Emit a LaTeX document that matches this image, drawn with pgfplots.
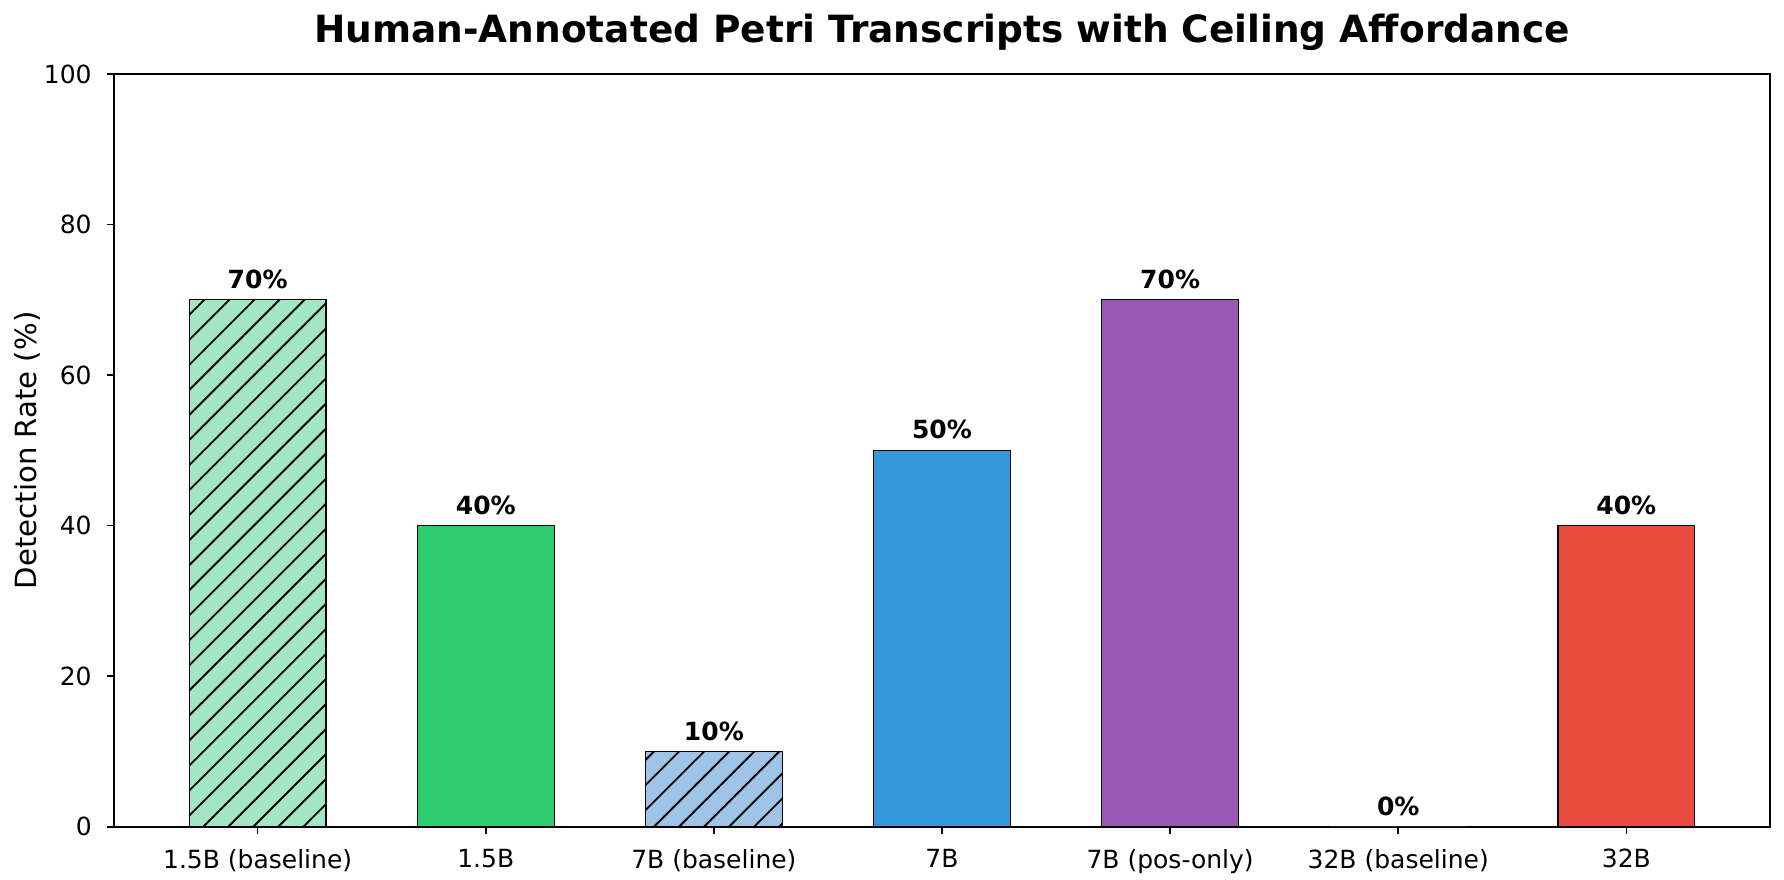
\documentclass[border=0pt]{standalone}
\usepackage{pgfplots}
\pgfplotsset{compat=1.18}
\usepackage{fontspec}
\setmainfont{DejaVu Sans}
\usetikzlibrary{patterns.meta}

\definecolor{greenbase}{RGB}{163,230,196}
\definecolor{greenfull}{RGB}{46,204,113}
\definecolor{bluebase}{RGB}{160,196,232}
\definecolor{bluefull}{RGB}{52,152,219}
\definecolor{purplefull}{RGB}{155,89,182}
\definecolor{redfull}{RGB}{231,76,60}

\tikzset{hatched/.style={postaction={pattern={Lines[angle=45,distance=8.5pt,line width=0.9pt]},pattern color=black}}}

\begin{document}
\begin{tikzpicture}
\begin{axis}[
    width=795pt, height=361.4pt, scale only axis,
    ybar, bar shift=0pt, bar width=0.6,
    xmin=-0.63, xmax=6.63, ymin=0, ymax=100,
    xtick={0,...,6},
    xticklabels={1.5B (baseline),1.5B,7B (baseline),7B,7B (pos-only),32B (baseline),32B},
    ytick={0,20,...,100},
    tick pos=left, tick align=outside,
    major tick length=3.5pt,
    every tick/.style={black, line width=0.8pt},
    axis line style={black, line width=0.8pt},
    /pgf/number format/assume math mode=true,
    tick label style={font=\fontsize{12}{14}\selectfont},
    xticklabel style={inner sep=0pt, yshift=-7pt},
    yticklabel style={inner sep=0pt, xshift=-7pt},
    ylabel={Detection Rate (\%)},
    ylabel style={font=\fontsize{14}{16}\selectfont, at={(rel axis cs:-0.0525,0.5)}, anchor=center},
    title={Human-Annotated Petri Transcripts with Ceiling Affordance},
    title style={font=\bfseries\fontsize{18}{21}\selectfont, at={(rel axis cs:0.5,1)}, anchor=base, yshift=9pt},
    nodes near coords={\pgfmathprintnumber{\pgfplotspointmeta}\%},
    every node near coord/.append style={font=\bfseries\fontsize{12}{14}\selectfont, anchor=south, inner sep=0pt, yshift=5pt, black},
]
\addplot[fill=greenbase, draw=black, line width=0.6pt, hatched] coordinates {(0,70)};
\addplot[fill=greenfull, draw=black, line width=0.6pt] coordinates {(1,40)};
\addplot[fill=bluebase, draw=black, line width=0.6pt, hatched] coordinates {(2,10)};
\addplot[fill=bluefull, draw=black, line width=0.6pt] coordinates {(3,50)};
\addplot[fill=purplefull, draw=black, line width=0.6pt] coordinates {(4,70)};
\addplot[fill=white, draw=none] coordinates {(5,0)};
\addplot[fill=redfull, draw=black, line width=0.6pt] coordinates {(6,40)};
\coordinate (sw) at (rel axis cs:0,0);
\coordinate (ne) at (rel axis cs:1,1);
\end{axis}
\pgfresetboundingbox
\path ([xshift=-54.7pt,yshift=-25.4pt]sw) rectangle ([xshift=6.7pt,yshift=35.5pt]ne);
\end{tikzpicture}
\end{document}
